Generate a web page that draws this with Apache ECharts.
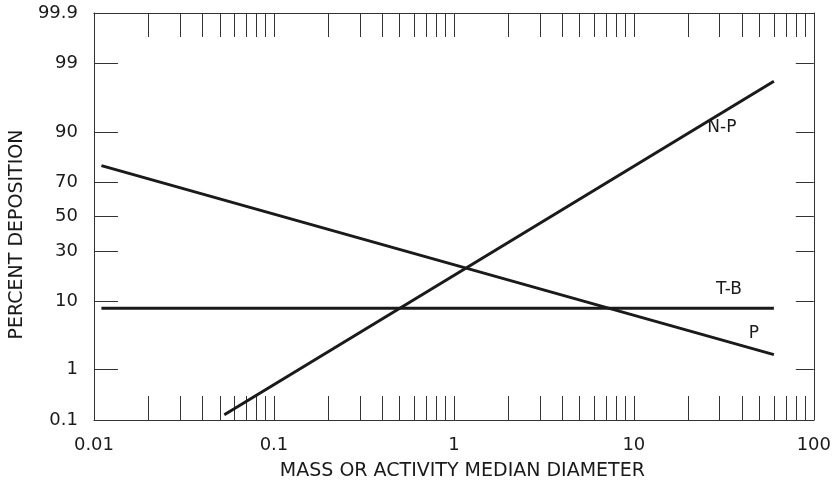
<!DOCTYPE html>
<html>
<head>
<meta charset="utf-8">
<script src="https://cdn.jsdelivr.net/npm/echarts@6/dist/echarts.min.js"></script>
<style>
  html, body { margin: 0; padding: 0; background: #fff; }
  #chart { width: 834px; height: 486px; }
</style>
</head>
<body>
<div id="chart"></div>
<script>
// Deposition fraction vs. median aerosol diameter; each region is a straight
// line on log-probability paper, given by its two end points.
const seriesNames = ['N-P', 'T-B', 'P'];
const npDiameter = [0.053, 60];
const npPercent = [0.13, 98];
const tbDiameter = [0.011, 60];
const tbPercent = [8.2, 8.2];
const pDiameter = [0.011, 60];
const pPercent = [78, 1.8];

// Axis ticks
const xTickValues = [0.01, 0.1, 1, 10, 100];
const xTickLabels = ['0.01', '0.1', '1', '10', '100'];
const yTickValues = [0.1, 1, 10, 30, 50, 70, 90, 99, 99.9];
const yTickLabels = ['0.1', '1', '10', '30', '50', '70', '90', '99', '99.9'];

// Inverse of the standard normal CDF (Acklam's approximation), taking a percent.
function probit(pct) {
  const p = pct / 100;
  const a = [-3.969683028665376e+01, 2.209460984245205e+02, -2.759285104469687e+02,
             1.383577518672690e+02, -3.066479806614716e+01, 2.506628277459239e+00];
  const b = [-5.447609879822406e+01, 1.615858368580409e+02, -1.556989798598866e+02,
             6.680131188771972e+01, -1.328068155288572e+01];
  const c = [-7.784894002430293e-03, -3.223964580411365e-01, -2.400758277161838e+00,
             -2.549732539343734e+00, 4.374664141464968e+00, 2.938163982698783e+00];
  const d = [7.784695709041462e-03, 3.224671290700398e-01, 2.445134137142996e+00,
             3.754408661907416e+00];
  const lo = 0.02425, hi = 1 - lo;
  let q, r;
  if (p < lo) {
    q = Math.sqrt(-2 * Math.log(p));
    return (((((c[0]*q + c[1])*q + c[2])*q + c[3])*q + c[4])*q + c[5]) /
           ((((d[0]*q + d[1])*q + d[2])*q + d[3])*q + 1);
  }
  if (p <= hi) {
    q = p - 0.5; r = q * q;
    return (((((a[0]*r + a[1])*r + a[2])*r + a[3])*r + a[4])*r + a[5]) * q /
           (((((b[0]*r + b[1])*r + b[2])*r + b[3])*r + b[4])*r + 1);
  }
  q = Math.sqrt(-2 * Math.log(1 - p));
  return -(((((c[0]*q + c[1])*q + c[2])*q + c[3])*q + c[4])*q + c[5]) /
          ((((d[0]*q + d[1])*q + d[2])*q + d[3])*q + 1);
}

const lx = Math.log10;
const xMin = lx(xTickValues[0]);
const xMax = lx(xTickValues[xTickValues.length - 1]);
const yMin = probit(yTickValues[0]);
const yMax = probit(yTickValues[yTickValues.length - 1]);

// Log-cycle tick marks: 2..10 times each decade start
const xMinorTicks = [];
for (let i = 0; i < xTickValues.length - 1; i++) {
  for (let m = 2; m <= 10; m++) xMinorTicks.push(lx(m * xTickValues[i]));
}
const xLabelPos = xTickValues.map(lx);
const yTickPos = yTickValues.map(probit);

const FONT = 'DejaVu Sans';
const INK = '#1a1a1a';
const FRAME = '#333';

function labelFor(positions, labels, v) {
  for (let i = 0; i < positions.length; i++) {
    if (Math.abs(positions[i] - v) < 1e-6) return labels[i];
  }
  return '';
}

function makeSeries(name, xs, ys, labelOffset) {
  const data = xs.map((x, i) => [lx(x), probit(ys[i])]);
  const last = data.length - 1;
  data[last] = {
    value: data[last],
    label: {
      show: true, formatter: name, position: 'inside', offset: labelOffset,
      fontFamily: FONT, fontSize: 17, color: INK
    }
  };
  return {
    name, type: 'line', data,
    symbol: 'circle', symbolSize: 0, showSymbol: true,
    lineStyle: { color: INK, width: 3 },
    itemStyle: { color: INK },
    silent: true
  };
}

const frameLine = { show: true, onZero: false, lineStyle: { color: FRAME, width: 1 } };

const chart = echarts.init(document.getElementById('chart'), null, { renderer: 'canvas' });
chart.setOption({
  animation: false,
  backgroundColor: '#fff',
  grid: { left: 80, right: 19, top: 13, bottom: 61, containLabel: false },
  xAxis: [
    {
      type: 'value', position: 'bottom', min: xMin, max: xMax,
      axisLine: frameLine,
      axisTick: { show: true, inside: true, length: 24, customValues: xMinorTicks,
                  lineStyle: { color: FRAME, width: 1 } },
      axisLabel: {
        customValues: xLabelPos, margin: 16,
        formatter: v => labelFor(xLabelPos, xTickLabels, v),
        fontFamily: FONT, fontSize: 18, color: INK
      },
      splitLine: { show: false },
      name: 'MASS OR ACTIVITY MEDIAN DIAMETER', nameLocation: 'middle', nameGap: 42,
      nameTextStyle: { fontFamily: FONT, fontSize: 19, color: INK, padding: [0, 0, 0, 17] }
    },
    {
      type: 'value', position: 'top', min: xMin, max: xMax,
      axisLine: frameLine,
      axisTick: { show: true, inside: true, length: 24, customValues: xMinorTicks,
                  lineStyle: { color: FRAME, width: 1 } },
      axisLabel: { show: false },
      splitLine: { show: false }
    }
  ],
  yAxis: [
    {
      type: 'value', position: 'left', min: yMin, max: yMax,
      axisLine: frameLine,
      axisTick: { show: true, inside: true, length: 24, customValues: yTickPos,
                  lineStyle: { color: FRAME, width: 1 } },
      axisLabel: {
        customValues: yTickPos, margin: 16,
        formatter: v => labelFor(yTickPos, yTickLabels, v),
        fontFamily: FONT, fontSize: 18, color: INK
      },
      splitLine: { show: false },
      name: 'PERCENT DEPOSITION', nameLocation: 'middle', nameGap: 58,
      nameTextStyle: { fontFamily: FONT, fontSize: 19, color: INK, padding: [0, 36, 0, 0] }
    },
    {
      type: 'value', position: 'right', min: yMin, max: yMax,
      axisLine: frameLine,
      axisTick: { show: true, inside: true, length: 18, customValues: yTickPos,
                  lineStyle: { color: FRAME, width: 1 } },
      axisLabel: { show: false },
      splitLine: { show: false }
    }
  ],
  series: [
    makeSeries(seriesNames[0], npDiameter, npPercent, [-52, 46]),
    makeSeries(seriesNames[1], tbDiameter, tbPercent, [-45, -19]),
    makeSeries(seriesNames[2], pDiameter, pPercent, [-20, -21])
  ]
});
</script>
</body>
</html>
